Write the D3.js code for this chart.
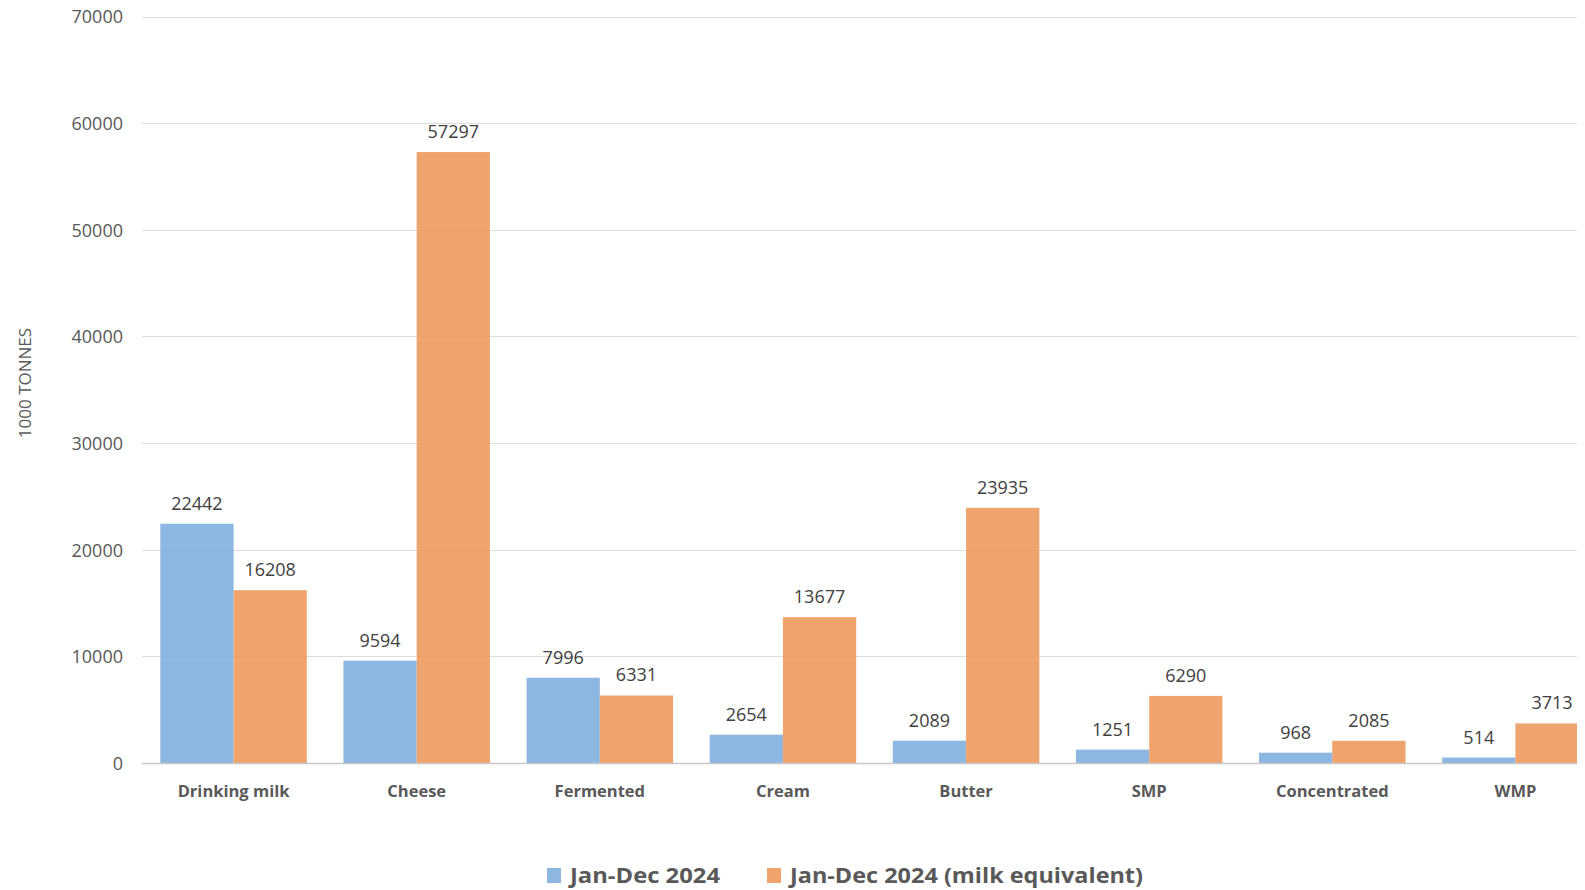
<!DOCTYPE html>
<html>
<head>
<meta charset="utf-8">
<script src="https://cdn.jsdelivr.net/npm/d3@7"></script>
<style>
  html, body { margin: 0; padding: 0; background: #fff; }
  svg { display: block; }
  text { font-family: "Open Sans", "Liberation Sans", sans-serif; }
</style>
</head>
<body>
<svg id="chart" width="1585" height="890"></svg>
<script>
const categories = ["Drinking milk", "Cheese", "Fermented", "Cream", "Butter", "SMP", "Concentrated", "WMP"];
const seriesNames = ["Jan-Dec 2024", "Jan-Dec 2024 (milk equivalent)"];
const productValues = [22442, 9594, 7996, 2654, 2089, 1251, 968, 514];
const milkEquivValues = [16208, 57297, 6331, 13677, 23935, 6290, 2085, 3713];
const yTicks = [0, 10000, 20000, 30000, 40000, 50000, 60000, 70000];
const yTitle = "1000 TONNES";

const colors = ["#80afde", "#ee9a5d"];
const legendColors = ["#8db7e1", "#f0a36c"];
const series = [productValues, milkEquivValues];

const svg = d3.select("#chart");
const W = 1585, H = 890;
const left = 142, plotRight = 1607, clipRight = 1577;
const y0 = 763, yTop = 16.6;

const x = d3.scaleBand().domain(categories).range([left, plotRight]).paddingInner(0.2).paddingOuter(0.1);
const xs = d3.scaleBand().domain([0, 1]).range([0, x.bandwidth()]);
const y = d3.scaleLinear().domain([0, 70000]).range([y0, yTop]);

svg.append("defs").append("clipPath").attr("id", "clip")
  .append("rect").attr("x", 0).attr("y", 0).attr("width", clipRight).attr("height", H);

const g = svg.append("g").attr("clip-path", "url(#clip)");

// gridlines
g.append("g").selectAll("line").data(yTicks.filter(d => d > 0)).join("line")
  .attr("x1", left).attr("x2", plotRight)
  .attr("y1", d => Math.round(y(d)) + 0.5).attr("y2", d => Math.round(y(d)) + 0.5)
  .attr("stroke", "#dcdcdc").attr("stroke-width", 1);

// bars
const groups = g.append("g").selectAll("g").data(categories).join("g")
  .attr("transform", d => `translate(${x(d)},0)`);

groups.selectAll("rect").data((d, i) => series.map((s, k) => ({k, v: s[i]}))).join("rect")
  .attr("x", d => xs(d.k))
  .attr("width", xs.bandwidth())
  .attr("y", d => y(d.v))
  .attr("height", d => y(0) - y(d.v))
  .attr("fill", d => colors[d.k])
  .attr("fill-opacity", 0.9);

// value labels
groups.selectAll("text").data((d, i) => series.map((s, k) => ({k, v: s[i]}))).join("text")
  .attr("x", d => xs(d.k) + xs.bandwidth() / 2)
  .attr("y", d => y(d.v) - 14)
  .attr("text-anchor", "middle")
  .attr("font-size", 18)
  .attr("fill", "#404040")
  .text(d => d.v);

// x axis line
g.append("line").attr("x1", left).attr("x2", plotRight)
  .attr("y1", y0 + 0.5).attr("y2", y0 + 0.5)
  .attr("stroke", "#c8c8c8").attr("stroke-width", 1.5);

// x axis labels
g.append("g").selectAll("text").data(categories).join("text")
  .attr("x", d => x(d) + x.bandwidth() / 2)
  .attr("y", 797)
  .attr("text-anchor", "middle")
  .attr("font-size", 16.5)
  .attr("font-weight", "bold")
  .attr("fill", "#595959")
  .text(d => d);

// y axis labels
const yAxis = d3.axisLeft(y).tickValues(yTicks).tickSize(0).tickPadding(0).tickFormat(d3.format("d"));
const ya = svg.append("g").attr("transform", `translate(123,0)`).call(yAxis);
ya.select(".domain").remove();
ya.selectAll("text")
  .attr("font-size", 18)
  .attr("font-family", "'Open Sans', sans-serif")
  .attr("fill", "#595959")
  .attr("dy", "0.35em");

// y title
svg.append("text")
  .attr("transform", "translate(31,383) rotate(-90)")
  .attr("text-anchor", "middle")
  .attr("font-size", 17)
  .attr("fill", "#595959")
  .text(yTitle);

// legend
const legendItems = [
  {name: seriesNames[0], color: legendColors[0], sx: 547, tx: 570, tw: 150},
  {name: seriesNames[1], color: legendColors[1], sx: 767, tx: 790, tw: 353}
];
const lg = svg.append("g");
legendItems.forEach(it => {
  lg.append("rect").attr("x", it.sx).attr("y", 868).attr("width", 14).attr("height", 15).attr("fill", it.color);
  lg.append("text").attr("x", it.tx).attr("y", 883)
    .attr("font-size", 21).attr("font-weight", "bold").attr("fill", "#595959")
    .attr("textLength", it.tw).attr("lengthAdjust", "spacingAndGlyphs")
    .text(it.name);
});
</script>
</body>
</html>
